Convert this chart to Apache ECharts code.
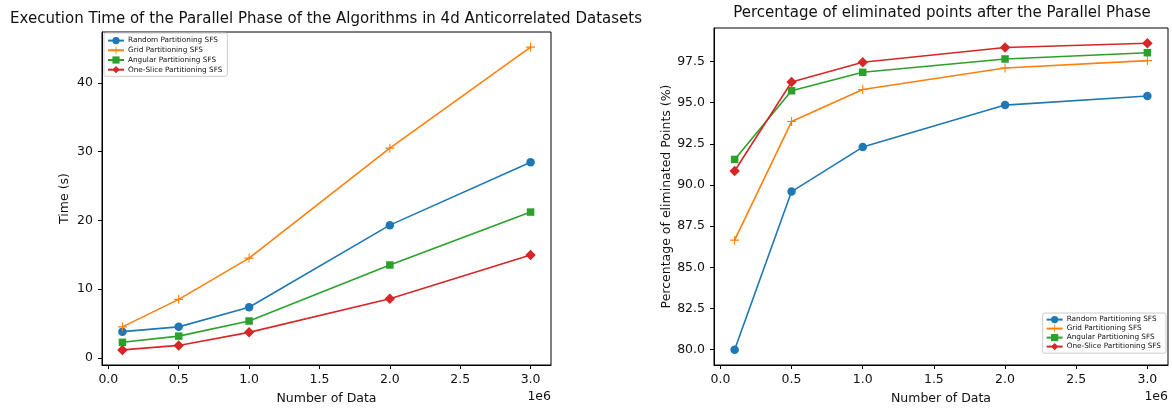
<!DOCTYPE html>
<html>
<head>
<meta charset="utf-8">
<script src="https://cdn.jsdelivr.net/npm/echarts@6/dist/echarts.min.js"></script>
<style>
  html, body { margin: 0; padding: 0; background: #fff; }
  #chart { width: 1172px; height: 410px; }
</style>
</head>
<body>
<div id="chart"></div>
<script>
// data
const xValues = [100000, 500000, 1000000, 2000000, 3000000]
const seriesNames = ['Random Partitioning SFS', 'Grid Partitioning SFS', 'Angular Partitioning SFS', 'One-Slice Partitioning SFS']

const timeRandom = [3.8, 4.5, 7.35, 19.3, 28.45]
const timeGrid = [4.5, 8.5, 14.5, 30.5, 45.2]
const timeAngular = [2.25, 3.15, 5.35, 13.5, 21.2]
const timeOneSlice = [1.15, 1.8, 3.7, 8.6, 14.95]

const elimRandom = [80.0, 89.6, 92.3, 94.85, 95.4]
const elimGrid = [86.65, 93.85, 95.8, 97.1, 97.55]
const elimAngular = [91.55, 95.72, 96.84, 97.65, 98.03]
const elimOneSlice = [90.85, 96.25, 97.45, 98.35, 98.6]

const xTicks = [0, 500000, 1000000, 1500000, 2000000, 2500000, 3000000]
const timeTicks = [0, 10, 20, 30, 40]
const elimTicks = [80, 82.5, 85, 87.5, 90, 92.5, 95, 97.5]

const FONT = 'DejaVu Sans'
const TXT = '#111'
const colors = ['#1f77b4', '#ff7f0e', '#2ca02c', '#d62728']
const plusPath = 'path://M-0.12,-1 L0.12,-1 L0.12,-0.12 L1,-0.12 L1,0.12 L0.12,0.12 L0.12,1 L-0.12,1 L-0.12,0.12 L-1,0.12 L-1,-0.12 L-0.12,-0.12 Z'
const symbols = ['circle', plusPath, 'rect', 'diamond']
const symbolSizes = [8.5, 9, 7.5, 10.5]

const chart = echarts.init(document.getElementById('chart'))

// pair x with y
const toPoints = ys => ys.map((y, i) => [xValues[i], y])

const makeSeries = (data, idx, axisIdx) => ({
  name: seriesNames[idx],
  type: 'line',
  xAxisIndex: axisIdx,
  yAxisIndex: axisIdx,
  data: toPoints(data),
  symbol: symbols[idx],
  symbolSize: symbolSizes[idx],
  showAllSymbol: true,
  lineStyle: { color: colors[idx], width: 1.6 },
  itemStyle: { color: colors[idx] },
  emphasis: { disabled: true }
})

const xAxisBase = gridIndex => ({
  type: 'value',
  gridIndex,
  min: -45000,
  max: 3145000,
  name: 'Number of Data',
  nameLocation: 'middle',
  nameGap: 27,
  nameTextStyle: { fontFamily: FONT, fontSize: 12.5, color: TXT },
  axisLine: { show: true, onZero: false, lineStyle: { color: '#000', width: 1 } },
  axisTick: { show: true, length: 4, lineStyle: { color: '#000' }, customValues: xTicks },
  axisLabel: {
    fontFamily: FONT, fontSize: 12.5, color: TXT, margin: 8,
    customValues: xTicks,
    formatter: v => (v / 1e6).toFixed(1)
  },
  splitLine: { show: false }
})

const legendBase = {
  orient: 'vertical',
  itemWidth: 16,
  itemHeight: 9,
  backgroundColor: 'rgba(255,255,255,0.8)',
  borderColor: '#ccc',
  borderWidth: 1,
  borderRadius: 2,
  textStyle: { fontFamily: FONT, fontSize: 7.3, color: TXT, padding: [0, 0, 0, -1] },
  data: seriesNames
}

const option = {
  animation: false,
  backgroundColor: '#fff',
  title: [
    {
      text: 'Execution Time of the Parallel Phase of the Algorithms in 4d Anticorrelated Datasets',
      left: 321, top: 7, textAlign: 'center',
      textStyle: { fontFamily: FONT, fontSize: 15, fontWeight: 'normal', color: TXT }
    },
    {
      text: 'Percentage of eliminated points after the Parallel Phase',
      left: 937, top: 1, textAlign: 'center',
      textStyle: { fontFamily: FONT, fontSize: 15, fontWeight: 'normal', color: TXT }
    }
  ],
  legend: [
    Object.assign({}, legendBase, { left: 104, top: 33, itemGap: 2.5, padding: [4, 5, 3, 3] }),
    Object.assign({}, legendBase, { right: 6, top: 313, itemGap: 1.8, padding: [3, 5, 3, 3] })
  ],
  grid: [
    { left: 102, top: 32, width: 449, height: 335, show: true, borderColor: '#000', borderWidth: 1 },
    { left: 714, top: 28, width: 454, height: 339, show: true, borderColor: '#000', borderWidth: 1 }
  ],
  xAxis: [xAxisBase(0), xAxisBase(1)],
  yAxis: [
    {
      type: 'value',
      gridIndex: 0,
      min: -1.05,
      max: 47.4,
      name: 'Time (s)',
      nameLocation: 'middle',
      nameGap: 31,
      nameTextStyle: { fontFamily: FONT, fontSize: 12.5, color: TXT },
      axisLine: { show: true, onZero: false, lineStyle: { color: '#000', width: 1 } },
      axisTick: { show: true, length: 4, lineStyle: { color: '#000' }, customValues: timeTicks },
      axisLabel: { fontFamily: FONT, fontSize: 12.5, color: TXT, margin: 9, customValues: timeTicks },
      splitLine: { show: false }
    },
    {
      type: 'value',
      gridIndex: 1,
      min: 79.07,
      max: 99.53,
      name: 'Percentage of eliminated Points (%)',
      nameLocation: 'middle',
      nameGap: 41,
      nameTextStyle: { fontFamily: FONT, fontSize: 12.5, color: TXT },
      axisLine: { show: true, onZero: false, lineStyle: { color: '#000', width: 1 } },
      axisTick: { show: true, length: 4, lineStyle: { color: '#000' }, customValues: elimTicks },
      axisLabel: {
        fontFamily: FONT, fontSize: 12.5, color: TXT, margin: 9,
        customValues: elimTicks,
        formatter: v => v.toFixed(1)
      },
      splitLine: { show: false }
    }
  ],
  graphic: [
    { type: 'text', right: 1172 - 551, top: 390, style: { text: '1e6', font: '12.5px "DejaVu Sans"', fill: TXT } },
    { type: 'text', right: 1172 - 1168, top: 390, style: { text: '1e6', font: '12.5px "DejaVu Sans"', fill: TXT } }
  ],
  series: [
    makeSeries(timeRandom, 0, 0),
    makeSeries(timeGrid, 1, 0),
    makeSeries(timeAngular, 2, 0),
    makeSeries(timeOneSlice, 3, 0),
    makeSeries(elimRandom, 0, 1),
    makeSeries(elimGrid, 1, 1),
    makeSeries(elimAngular, 2, 1),
    makeSeries(elimOneSlice, 3, 1)
  ]
}

chart.setOption(option)
</script>
</body>
</html>
